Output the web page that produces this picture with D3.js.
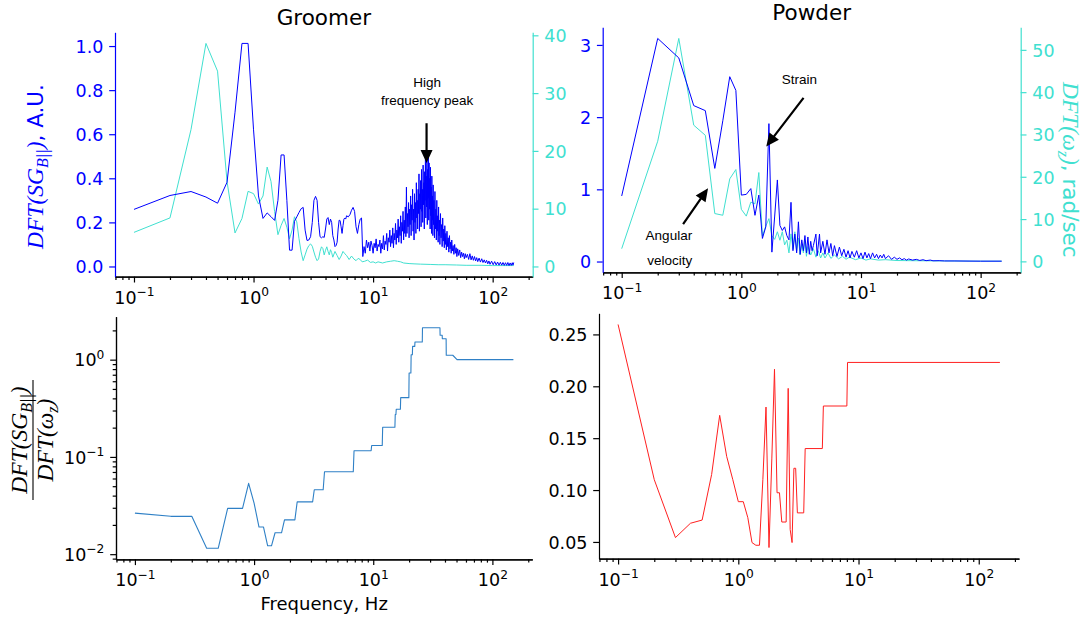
<!DOCTYPE html>
<html>
<head>
<meta charset="utf-8">
<script src="https://cdn.jsdelivr.net/npm/d3@7"></script>
<style>
  body { margin: 0; background: #fff; }
  svg { display: block; }
</style>
</head>
<body>
<svg id="fig" width="1086" height="618"></svg>
<script>
// ---------------- data: [frequency (Hz), value] ----------------
// Groomer run: strain-gauge spectrum (A.U.)
const groomerSG = [
  [0.1,0.259],[0.2,0.322],[0.3,0.340],[0.4,0.315],[0.5,0.287],[0.6,0.382],[0.7,0.70],[0.8,1.012],[0.9,1.012],[1.0,0.62],
  [1.1,0.32],[1.2,0.218],[1.3,0.243],[1.4,0.226],[1.5,0.209],[1.6,0.30],[1.7,0.506],[1.8,0.506],[1.9,0.30],[2.0,0.074],
  [2.1,0.074],[2.2,0.205],[2.3,0.225],[2.4,0.245],[2.5,0.262],[2.6,0.268],[2.7,0.165],[2.8,0.118],[2.9,0.120],[3.0,0.135],
  [3.1,0.200],[3.2,0.300],[3.3,0.318],[3.4,0.300],[3.5,0.200],[3.6,0.135],[3.7,0.130],[3.8,0.135],[3.9,0.132],[4.0,0.170],
  [4.1,0.215],[4.2,0.222],[4.3,0.190],[4.4,0.215],[4.5,0.200],[4.6,0.140],[4.7,0.120],[4.8,0.090],[4.9,0.095],[5.0,0.110],
  [5.1,0.170],[5.2,0.210],[5.3,0.208],[5.4,0.180],[5.5,0.150],[5.6,0.185],[5.7,0.215],[5.8,0.220],[5.9,0.215],[6.0,0.230],
  [6.2,0.225],[6.4,0.235],[6.6,0.255],[6.8,0.268],[7.0,0.250],[7.2,0.180],[7.4,0.150],[7.6,0.190],[7.8,0.215],[8.0,0.220],
  [8.2,0.045],[8.4,0.090],[8.6,0.060],[8.8,0.120],[9.0,0.085],[9.2,0.110],[9.4,0.070],[9.6,0.115],[9.8,0.095],[10.0,0.060],
  [10.2,0.105],[10.4,0.085],[10.6,0.125],[10.8,0.070],[11.0,0.100],[11.2,0.090],[11.4,0.120],[11.6,0.060],[11.8,0.105],[12.0,0.080],
  [12.2,0.140],[12.4,0.075],[12.6,0.115],[12.8,0.100],[13.0,0.150],[13.2,0.070],[13.4,0.130],[13.6,0.110],[13.8,0.165],[14.0,0.090],
  [14.2,0.140],[14.4,0.105],[14.6,0.175],[14.8,0.085],[15.0,0.150],[15.2,0.120],[15.4,0.195],[15.6,0.100],[15.8,0.165],[16.0,0.130],
  [16.2,0.215],[16.4,0.110],[16.6,0.180],[16.8,0.140],[17.0,0.230],[17.2,0.105],[17.4,0.200],[17.6,0.160],[17.8,0.250],[18.0,0.120],
  [18.2,0.210],[18.4,0.150],[18.6,0.270],[18.8,0.135],[19.0,0.360],[19.2,0.150],[19.4,0.240],[19.6,0.180],[19.8,0.290],[20.0,0.130],
  [20.2,0.260],[20.4,0.190],[20.6,0.320],[20.8,0.140],[21.0,0.280],[21.2,0.210],[21.4,0.350],[21.6,0.160],[21.8,0.260],[22.0,0.120],
  [22.2,0.330],[22.4,0.200],[22.6,0.290],[22.8,0.150],[23.0,0.380],[23.2,0.220],[23.4,0.300],[23.6,0.170],[23.8,0.350],[24.0,0.240],
  [24.2,0.420],[24.4,0.160],[24.6,0.330],[24.8,0.260],[25.0,0.390],[25.2,0.180],[25.4,0.440],[25.6,0.250],[25.8,0.350],[26.0,0.200],
  [26.2,0.460],[26.4,0.280],[26.6,0.380],[26.8,0.170],[27.0,0.430],[27.2,0.300],[27.4,0.490],[27.6,0.220],[27.8,0.410],[28.0,0.270],
  [28.2,0.520],[28.4,0.190],[28.6,0.440],[28.8,0.310],[29.0,0.500],[29.2,0.210],[29.4,0.470],[29.6,0.260],[29.8,0.400],[30.0,0.170],
  [30.2,0.450],[30.4,0.230],[30.6,0.360],[30.8,0.150],[31.0,0.410],[31.2,0.210],[31.4,0.320],[31.6,0.140],[31.8,0.370],[32.0,0.190],
  [32.3,0.300],[32.6,0.130],[32.9,0.340],[33.2,0.170],[33.5,0.260],[33.8,0.120],[34.1,0.300],[34.4,0.160],[34.7,0.230],[35.0,0.110],
  [35.3,0.270],[35.6,0.140],[35.9,0.210],[36.2,0.100],[36.6,0.240],[37.0,0.130],[37.4,0.190],[37.8,0.090],[38.2,0.220],[38.6,0.115],
  [39.0,0.170],[39.4,0.085],[39.8,0.185],[40.2,0.100],[40.6,0.150],[41.0,0.075],[41.5,0.160],[42.0,0.090],[42.5,0.130],[43.0,0.065],
  [43.5,0.140],[44.0,0.080],[44.5,0.110],[45.0,0.060],[45.5,0.120],[46.0,0.070],[46.7,0.095],[47.4,0.055],[48.1,0.100],[48.8,0.060],
  [49.5,0.085],[50.2,0.045],[51.0,0.080],[52.0,0.050],[53.0,0.075],[54.0,0.040],[55.0,0.065],[56.0,0.045],[57.0,0.060],[58.0,0.035],
  [59.0,0.058],[60.0,0.040],[61.5,0.055],[63.0,0.032],[64.5,0.058],[66.0,0.030],[67.5,0.048],[69.0,0.028],[70.5,0.045],[72.0,0.025],
  [73.5,0.040],[75.0,0.022],[77.0,0.038],[79.0,0.020],[81.0,0.035],[83.0,0.018],[85.0,0.030],[87.0,0.016],[89.0,0.028],[91.0,0.012],
  [93.0,0.025],[95.0,0.010],[98.0,0.024],[101,0.008],[104,0.022],[107,0.007],[110,0.020],[113,0.006],[116,0.019],[119,0.006],
  [122,0.018],[125,0.005],[128,0.017],[131,0.005],[134,0.018],[137,0.004],[140,0.016],[143,0.005],[146,0.017],[148,0.006],
  [150,0.018]
];
// Groomer run: angular-velocity spectrum (rad/sec)
const groomerW = [
  [0.1,5.9],[0.2,8.4],[0.3,23.7],[0.4,38.6],[0.5,33.8],[0.6,14.7],[0.7,5.8],[0.8,8.3],[0.9,13.0],[1.0,12.6],
  [1.1,10.8],[1.2,12.2],[1.3,17.2],[1.4,14.7],[1.5,9.5],[1.6,5.5],[1.7,7.1],[1.8,8.3],[1.9,6.8],[2.0,4.8],
  [2.1,6.3],[2.2,8.6],[2.3,7.7],[2.4,4.8],[2.5,2.5],[2.6,1.0],[2.7,2.0],[2.8,3.0],[2.9,3.6],[3.0,3.9],
  [3.1,3.5],[3.2,2.5],[3.3,1.6],[3.4,1.0],[3.5,1.3],[3.6,2.6],[3.7,3.4],[3.8,3.1],[3.9,2.0],[4.0,2.8],
  [4.1,3.4],[4.2,2.6],[4.3,2.0],[4.4,2.9],[4.5,2.4],[4.6,1.6],[4.8,2.6],[5.0,1.9],[5.2,1.2],[5.4,1.8],
  [5.6,2.6],[5.8,2.2],[6.0,1.9],[6.3,1.2],[6.6,1.8],[6.9,1.3],[7.2,1.0],[7.5,1.4],[7.8,1.2],[8.1,0.8],
  [8.5,0.9],[9.0,1.1],[9.5,0.7],[10,0.8],[10.5,0.6],[11,0.8],[12,0.6],[13,0.8],[14,0.9],[15,1.0],
  [16,0.9],[17,0.8],[18,0.6],[20,0.5],[22,0.45],[25,0.4],[30,0.35],[35,0.3],[40,0.3],[50,0.25],
  [60,0.2],[80,0.2],[100,0.15],[150,0.15]
];
// Powder run: strain-gauge spectrum (A.U.)
const powderSG = [
  [0.1,0.908],[0.2,3.09],[0.3,2.82],[0.4,2.16],[0.5,2.09],[0.6,1.29],[0.7,1.95],[0.8,2.56],[0.9,2.37],[1.0,0.92],
  [1.1,0.93],[1.2,1.01],[1.3,0.64],[1.4,0.92],[1.5,0.32],[1.6,0.48],[1.7,1.91],[1.8,0.13],[1.9,0.63],[2.0,1.13],
  [2.1,0.50],[2.2,0.43],[2.3,0.48],[2.4,0.36],[2.5,0.30],[2.6,0.82],[2.7,0.15],[2.8,0.38],[2.9,0.12],[3.0,0.55],
  [3.1,0.10],[3.2,0.30],[3.3,0.15],[3.4,0.36],[3.5,0.12],[3.6,0.34],[3.7,0.10],[3.8,0.28],[3.9,0.15],[4.0,0.22],
  [4.2,0.38],[4.3,0.08],[4.5,0.38],[4.6,0.12],[4.8,0.28],[5.0,0.10],[5.2,0.30],[5.4,0.12],[5.6,0.25],[5.8,0.08],
  [6.0,0.22],[6.3,0.07],[6.6,0.20],[6.9,0.08],[7.2,0.17],[7.5,0.06],[7.8,0.15],[8.1,0.05],[8.4,0.14],[8.8,0.06],
  [9.2,0.15],[9.6,0.05],[10.0,0.12],[10.4,0.04],[10.8,0.13],[11.2,0.05],[11.6,0.11],[12.0,0.04],[12.5,0.12],[13.0,0.05],
  [13.5,0.10],[14.0,0.04],[14.5,0.09],[15.0,0.05],[15.5,0.10],[16,0.04],[17,0.08],[18,0.03],[19,0.06],[20,0.03],
  [21,0.05],[22,0.025],[23,0.04],[24,0.02],[25,0.035],[27,0.02],[29,0.03],[31,0.015],[33,0.025],[35,0.012],
  [38,0.02],[40,0.01],[45,0.012],[50,0.008],[60,0.008],[80,0.006],[100,0.005],[150,0.005]
];
// Powder run: angular-velocity spectrum (rad/sec)
const powderW = [
  [0.1,3.0],[0.2,28.4],[0.3,52.7],[0.4,32.2],[0.5,29.8],[0.6,11.3],[0.7,10.9],[0.8,19.5],[0.9,21.7],[1.0,12.3],
  [1.1,10.7],[1.2,14.0],[1.3,13.6],[1.4,21.0],[1.5,6.0],[1.6,8.3],[1.7,10.1],[1.8,6.0],[1.9,5.2],[2.0,7.0],
  [2.1,5.0],[2.2,7.0],[2.3,3.9],[2.4,5.0],[2.5,2.0],[2.6,6.5],[2.7,3.0],[2.8,7.0],[2.9,2.5],[3.0,5.5],
  [3.1,1.5],[3.2,4.0],[3.3,2.0],[3.4,5.0],[3.5,1.2],[3.6,3.5],[3.8,1.5],[4.0,3.0],[4.2,1.0],[4.4,2.5],
  [4.6,0.8],[4.8,2.0],[5.0,0.8],[5.3,2.0],[5.6,0.7],[6.0,1.5],[6.5,0.6],[7.0,1.2],[7.5,0.5],[8.0,1.0],
  [9.0,0.4],[10,0.8],[11,0.3],[12,0.6],[14,0.3],[16,0.4],[20,0.2],[30,0.15],[50,0.1],[100,0.05],[150,0.05]
];
// Ratio DFT(SG)/DFT(w), groomer
const groomerRatio = [
  [0.1,0.0264],[0.2,0.0245],[0.3,0.0245],[0.4,0.0115],[0.5,0.0115],[0.6,0.0296],[0.8,0.0296],[0.9,0.0535],[1.0,0.0335],[1.1,0.0190],
  [1.2,0.0190],[1.3,0.0122],[1.4,0.0122],[1.5,0.0166],[1.7,0.0166],[1.8,0.0225],[2.2,0.0225],[2.3,0.0345],[3.1,0.0345],[3.2,0.0460],
  [3.8,0.0460],[3.9,0.0703],[6.8,0.0703],[6.9,0.1156],[9.6,0.1156],[9.7,0.131],[11.9,0.131],[12.0,0.202],[15.2,0.202],[15.3,0.273],
  [15.5,0.273],[15.6,0.309],[16.9,0.309],[17.0,0.407],[19.9,0.407],[20.0,0.729],[20.7,0.729],[20.8,1.125],[21.3,1.125],[21.4,1.37],
  [22.3,1.37],[22.4,1.52],[25.8,1.52],[25.9,2.13],[36.3,2.13],[36.4,1.78],[37.9,1.78],[38.0,1.64],[40.9,1.64],[41.0,1.11],
  [46.5,1.11],[50.5,1.00],[150,1.00]
];
// Ratio DFT(SG)/DFT(w), powder
const powderRatio = [
  [0.1,0.2596],[0.2,0.110],[0.3,0.0542],[0.4,0.068],[0.5,0.0711],[0.6,0.115],[0.7,0.172],[0.8,0.1325],[0.9,0.110],[1.0,0.0888],
  [1.1,0.0888],[1.2,0.0734],[1.3,0.0494],[1.4,0.0468],[1.5,0.0468],[1.6,0.110],[1.7,0.180],[1.8,0.0446],[1.9,0.130],[2.0,0.2164],
  [2.1,0.0974],[2.2,0.0974],[2.3,0.0692],[2.4,0.0692],[2.5,0.0692],[2.6,0.198],[2.7,0.062],[2.8,0.0494],[2.9,0.121],[3.0,0.121],
  [3.1,0.078],[3.5,0.078],[3.6,0.140],[5.0,0.140],[5.1,0.181],[8.0,0.181],[8.1,0.223],[150,0.223]
];

const panelTitles = ["Groomer", "Powder"];
const xMajorTicks = [0.1, 1, 10, 100];
const yTicksGroomerSG = [0, 0.2, 0.4, 0.6, 0.8, 1.0];
const yTicksGroomerW = [0, 10, 20, 30, 40];
const yTicksPowderSG = [0, 1, 2, 3];
const yTicksPowderW = [0, 10, 20, 30, 40, 50];
const yTicksGroomerRatio = [0.01, 0.1, 1];
const yTicksPowderRatio = [0.05, 0.10, 0.15, 0.20, 0.25];

// ---------------- layout & style ----------------
const BLUE = "#0000ff", TURQ = "#40e0d0", C0 = "#2f80c6", RED = "#ff2020";
const TICK_FONT = 17.5, LABEL_FONT = 21.5, MATH_FONT = 23.5, SUB_FONT = 16;
const MAJ = 5.8, MIN = 3.3, PAD = 5.8, SPINE_W = 1.2;
const box = {
  tl: { l: 115, r: 532.7, t: 32.3, b: 276.7 },
  tr: { l: 602.7, r: 1020.7, t: 27.3, b: 272.3 },
  bl: { l: 116, r: 532.3, t: 316.7, b: 559.3 },
  br: { l: 599, r: 1019, t: 313.3, b: 558.7 }
};

const svg = d3.select("#fig").attr("font-family", "DejaVu Sans, sans-serif");

function logPadded(lo, hi) {
  const a = Math.log10(lo), b = Math.log10(hi), s = b - a;
  return [10 ** (a - 0.05 * s), 10 ** (b + 0.05 * s)];
}
function linPadded(vals) {
  const lo = d3.min(vals), hi = d3.max(vals), s = hi - lo;
  return [lo - 0.05 * s, hi + 0.05 * s];
}
function minorLogTicks(domain) {
  const out = [];
  for (let e = -4; e <= 3; e++) for (let m = 2; m <= 9; m++) {
    const v = m * 10 ** e;
    if (v >= domain[0] && v <= domain[1]) out.push(v);
  }
  return out;
}
// "10^k" label with a raised exponent
function powerLabel(sel) {
  sel.each(function (d) {
    const k = Math.round(Math.log10(d));
    const t = d3.select(this).text(null);
    t.append("tspan").text("10");
    t.append("tspan").attr("dy", -7.5).attr("font-size", TICK_FONT * 0.7).text(k < 0 ? "\u2212" + (-k) : String(k));
  });
}
function styleAxis(g, color) {
  g.select(".domain").attr("stroke", color).attr("stroke-width", SPINE_W);
  g.selectAll(".tick line").attr("stroke", color).attr("stroke-width", SPINE_W);
  g.selectAll(".tick text").attr("fill", color).attr("font-size", TICK_FONT).attr("font-family", "DejaVu Sans, sans-serif");
}

function xLogAxis(p) {
  const x = d3.scaleLog().domain(logPadded(0.1, 150)).range([p.l, p.r]);
  const gMin = svg.append("g").attr("transform", `translate(0,${p.b})`)
    .call(d3.axisBottom(x).tickValues(minorLogTicks(x.domain())).tickSize(MIN).tickSizeOuter(0).tickFormat(""));
  styleAxis(gMin, "#000");
  const g = svg.append("g").attr("transform", `translate(0,${p.b})`)
    .call(d3.axisBottom(x).tickValues(xMajorTicks).tickSize(MAJ).tickSizeOuter(0).tickPadding(PAD));
  styleAxis(g, "#000");
  g.selectAll(".tick text").attr("dy", null).attr("y", 27).call(powerLabel);
  return x;
}

function yAxis(p, y, side, ticks, fmt, color) {
  const ax = side === "left" ? d3.axisLeft(y) : d3.axisRight(y);
  const g = svg.append("g").attr("transform", `translate(${side === "left" ? p.l : p.r},0)`)
    .call(ax.tickValues(ticks).tickSize(MAJ).tickSizeOuter(0).tickPadding(PAD).tickFormat(fmt));
  styleAxis(g, color);
  g.selectAll(".tick text").attr("dy", "0.36em");
  return g;
}

function drawLine(data, x, y, color, width) {
  svg.append("path").datum(data)
    .attr("fill", "none").attr("stroke", color).attr("stroke-width", width)
    .attr("stroke-linejoin", "round")
    .attr("d", d3.line().x(d => x(d[0])).y(d => y(d[1])));
}

function arrow(x0, y0, x1, y1) {
  // shaft from (x0,y0) to tip (x1,y1) with a filled head
  const dx = x1 - x0, dy = y1 - y0, L = Math.hypot(dx, dy);
  const ux = dx / L, uy = dy / L, nx = -uy, ny = ux;
  const hl = 13, hw = 6, sw = 1.1;
  const bx = x1 - ux * hl, by = y1 - uy * hl;
  const pts = [
    [x0 + nx * sw, y0 + ny * sw], [bx + nx * sw, by + ny * sw], [bx + nx * hw, by + ny * hw],
    [x1, y1], [bx - nx * hw, by - ny * hw], [bx - nx * sw, by - ny * sw], [x0 - nx * sw, y0 - ny * sw]
  ];
  svg.append("path").attr("d", "M" + pts.map(q => q.join(",")).join("L") + "Z").attr("fill", "#000");
}
function note(x, y, str) {
  svg.append("text").attr("x", x).attr("y", y).attr("text-anchor", "middle")
    .attr("dominant-baseline", "central").attr("font-family", "Liberation Sans, Arial, sans-serif")
    .attr("font-size", 13.5).attr("fill", "#000").text(str);
}

// Math-style label pieces: [text, italicSerif?, dyShift, size]
function mathText(parent, parts) {
  const t = parent.append("text");
  parts.forEach(([s, math, dy, size]) => {
    t.append("tspan").text(s).attr("dy", dy || 0)
      .attr("font-family", math ? "Liberation Serif, DejaVu Serif, serif" : "DejaVu Sans, sans-serif")
      .attr("font-style", math ? "italic" : "normal").attr("font-size", size);
  });
  return t;
}
const SG_PARTS = [["DFT(SG", true, 0, MATH_FONT], ["B||", true, 5, SUB_FONT], [")", true, -5, MATH_FONT]];
const W_PARTS = [["DFT(", true, 0, MATH_FONT], ["\u03c9", true, 0, MATH_FONT], ["z", true, 5, SUB_FONT], [")", true, -5, MATH_FONT]];

// ---------------- top-left: groomer spectra ----------------
{
  const p = box.tl;
  const x = xLogAxis(p);
  const y = d3.scaleLinear().domain(linPadded(groomerSG.map(d => d[1]))).range([p.b, p.t]);
  const y2 = d3.scaleLinear().domain(linPadded(groomerW.map(d => d[1]))).range([p.b, p.t]);
  drawLine(groomerW, x, y2, TURQ, 1);
  drawLine(groomerSG, x, y, BLUE, 1);
  yAxis(p, y, "left", yTicksGroomerSG, d3.format(".1f"), BLUE);
  yAxis(p, y2, "right", yTicksGroomerW, d3.format("d"), TURQ);
  svg.append("text").attr("x", (p.l + p.r) / 2).attr("y", p.t - 7).attr("text-anchor", "middle")
    .attr("font-size", LABEL_FONT).attr("fill", "#000").text(panelTitles[0]);
  const lab = svg.append("g").attr("transform", `translate(43,${(p.t + p.b) / 2 + 12}) rotate(-90)`).attr("fill", BLUE);
  mathText(lab, SG_PARTS.concat([[", A.U.", false, 0, LABEL_FONT]])).attr("text-anchor", "middle");
  // high frequency peak annotation
  arrow(x(28), y(0.65), x(28), y(0.47));
  note(x(28.3), y(0.833), "High");
  note(x(28.3), y(0.754), "frequency peak");
}

// ---------------- top-right: powder spectra ----------------
{
  const p = box.tr;
  const x = xLogAxis(p);
  const y = d3.scaleLinear().domain(linPadded(powderSG.map(d => d[1]))).range([p.b, p.t]);
  const y2 = d3.scaleLinear().domain(linPadded(powderW.map(d => d[1]))).range([p.b, p.t]);
  drawLine(powderW, x, y2, TURQ, 1);
  drawLine(powderSG, x, y, BLUE, 1);
  yAxis(p, y, "left", yTicksPowderSG, d3.format("d"), BLUE);
  yAxis(p, y2, "right", yTicksPowderW, d3.format("d"), TURQ);
  svg.append("text").attr("x", (p.l + p.r) / 2).attr("y", p.t - 7).attr("text-anchor", "middle")
    .attr("font-size", LABEL_FONT).attr("fill", "#000").text(panelTitles[1]);
  const lab = svg.append("g").attr("transform", `translate(1063,${(p.t + p.b) / 2 + 20}) rotate(90)`).attr("fill", TURQ);
  mathText(lab, W_PARTS.concat([[", rad/sec", false, 0, LABEL_FONT]])).attr("text-anchor", "middle");
  arrow(x(3.31), y(2.267), x(1.615), y(1.594));
  note(x(3.06), y(2.52), "Strain");
  arrow(x(0.326), y(0.519), x(0.527), y(1.015));
  note(x(0.248), y(0.366), "Angular");
  note(x(0.2527), y(0.018), "velocity");
}

// ---------------- bottom-left: groomer ratio ----------------
{
  const p = box.bl;
  const x = xLogAxis(p);
  const vals = groomerRatio.map(d => d[1]);
  const y = d3.scaleLog().domain(logPadded(d3.min(vals), d3.max(vals))).range([p.b, p.t]);
  const gm = svg.append("g").attr("transform", `translate(${p.l},0)`)
    .call(d3.axisLeft(y).tickValues(minorLogTicks(y.domain())).tickSize(MIN).tickSizeOuter(0).tickFormat(""));
  styleAxis(gm, "#000");
  const g = yAxis(p, y, "left", yTicksGroomerRatio, d => d, "#000");
  g.selectAll(".tick text").attr("dy", "0.36em").call(powerLabel);
  drawLine(groomerRatio, x, y, C0, 1.1);
  svg.append("text").attr("x", (p.l + p.r) / 2).attr("y", 610).attr("text-anchor", "middle")
    .attr("font-size", 18).attr("fill", "#000").text("Frequency, Hz");
  const lab = svg.append("g").attr("transform", `translate(33,${(p.t + p.b) / 2 + 2}) rotate(-90)`).attr("fill", "#000");
  mathText(lab, SG_PARTS).attr("text-anchor", "middle").attr("y", -6);
  lab.append("line").attr("x1", -60).attr("x2", 60).attr("y1", 0).attr("y2", 0).attr("stroke", "#000").attr("stroke-width", 1.1);
  mathText(lab, W_PARTS).attr("text-anchor", "middle").attr("y", 20);
}

// ---------------- bottom-right: powder ratio ----------------
{
  const p = box.br;
  const x = xLogAxis(p);
  const y = d3.scaleLinear().domain(linPadded(powderRatio.map(d => d[1]))).range([p.b, p.t]);
  yAxis(p, y, "left", yTicksPowderRatio, d3.format(".2f"), "#000");
  drawLine(powderRatio, x, y, RED, 1);
}
</script>
</body>
</html>
